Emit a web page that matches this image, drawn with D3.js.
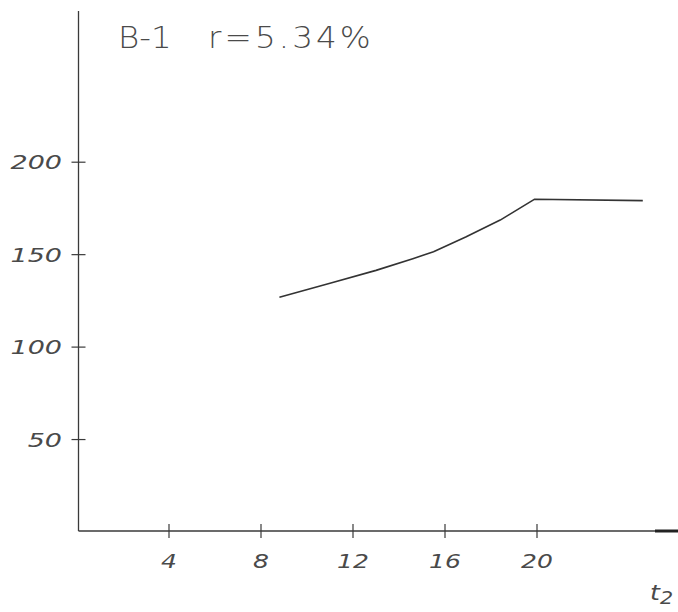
<!DOCTYPE html>
<html>
<head>
<meta charset="utf-8">
<script src="https://cdn.jsdelivr.net/npm/d3@7/dist/d3.min.js"></script>
<style>
html,body{margin:0;padding:0;background:#fff;}
svg{display:block;}
</style>
</head>
<body>
<svg id="chart" width="678" height="612"></svg>
<script>
// Data
const t2Values = [8.8, 11.0, 13.0, 14.6, 15.5, 16.9, 18.4, 19.9, 24.6];
const yValues  = [127, 134.5, 141.5, 147.8, 151.6, 159.5, 168.7, 180.0, 179.2];
const xTicks = [4, 8, 12, 16, 20];
const xTickLabels = ["4", "8", "12", "16", "20"];
const yTicks = [50, 100, 150, 200];
const yTickLabels = ["50", "100", "150", "200"];
const title1 = "B-1";
const title2 = "r=5.34%";

const svg = d3.select("#chart");
const ink = "#3a3a3a";
const textInk = "#4a4a4a";

const x = d3.scaleLinear().domain([0, 26]).range([77, 77 + 23 * 26]);
const y = d3.scaleLinear().domain([0, 200]).range([532, 532 - 1.849 * 200]);

const axisX0 = 78.5, axisY0 = 531;

// Y axis line
svg.append("line").attr("x1", axisX0).attr("x2", axisX0).attr("y1", 11).attr("y2", axisY0)
  .attr("stroke", ink).attr("stroke-width", 1.3);
// X axis line
svg.append("line").attr("x1", axisX0).attr("x2", 678).attr("y1", axisY0).attr("y2", axisY0)
  .attr("stroke", ink).attr("stroke-width", 1.3);
// thick end piece
svg.append("line").attr("x1", 655).attr("x2", 678).attr("y1", axisY0).attr("y2", axisY0)
  .attr("stroke", "#222").attr("stroke-width", 3);

// Y ticks
const gy = svg.append("g");
gy.selectAll("line").data(yTicks).join("line")
  .attr("x1", axisX0 - 7).attr("x2", axisX0 + 7)
  .attr("y1", d => y(d)).attr("y2", d => y(d))
  .attr("stroke", ink).attr("stroke-width", 1.2);
gy.selectAll("text").data(yTicks).join("text")
  .attr("transform", d => `translate(62,${y(d) + 7}) scale(1.35,1)`)
  .attr("text-anchor", "end")
  .attr("font-family", "DejaVu Sans").attr("font-style", "italic").attr("font-weight", 200)
  .attr("font-size", 20).attr("fill", textInk)
  .text((d, i) => yTickLabels[i]);

// X ticks
const gx = svg.append("g");
gx.selectAll("line").data(xTicks).join("line")
  .attr("x1", d => x(d)).attr("x2", d => x(d))
  .attr("y1", axisY0 - 7).attr("y2", axisY0 + 7)
  .attr("stroke", ink).attr("stroke-width", 1.2);
gx.selectAll("text").data(xTicks).join("text")
  .attr("transform", d => `translate(${x(d)},568) scale(1.25,1)`)
  .attr("text-anchor", "middle")
  .attr("font-family", "DejaVu Sans").attr("font-style", "italic").attr("font-weight", 200)
  .attr("font-size", 20).attr("fill", textInk)
  .text((d, i) => xTickLabels[i]);

// Axis name t2
const tl = svg.append("text").attr("transform", "translate(650,600) scale(1.15,1)")
  .attr("font-family", "DejaVu Sans").attr("font-style", "italic").attr("font-weight", 200)
  .attr("font-size", 22).attr("fill", textInk);
tl.append("tspan").text("t");
tl.append("tspan").attr("dy", 4).attr("font-size", 18).text("2");

// Title
svg.append("text").attr("transform", "translate(118,48) scale(1.05,1)")
  .attr("font-family", "DejaVu Sans").attr("font-weight", 200)
  .attr("font-size", 31).attr("fill", textInk)
  .attr("textLength", 51).attr("lengthAdjust", "spacingAndGlyphs")
  .text(title1);
svg.append("text").attr("transform", "translate(208,48) scale(1.05,1)")
  .attr("font-family", "DejaVu Sans").attr("font-weight", 200)
  .attr("font-size", 31).attr("fill", textInk)
  .attr("textLength", 155).attr("lengthAdjust", "spacing")
  .text(title2);

// Data line
const pts = t2Values.map((t, i) => [t, yValues[i]]);
svg.append("path").datum(pts)
  .attr("fill", "none").attr("stroke", "#333").attr("stroke-width", 1.6)
  .attr("stroke-linejoin", "round")
  .attr("d", d3.line().x(d => x(d[0])).y(d => y(d[1])));
</script>
</body>
</html>
